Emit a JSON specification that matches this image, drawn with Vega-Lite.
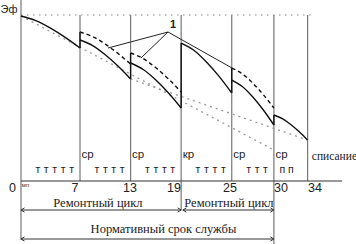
{
  "$schema": "https://vega.github.io/schema/vega-lite/v6.json",
  "width": 356,
  "height": 244,
  "padding": 0,
  "autosize": {"type": "none"},
  "background": "white",
  "config": {"view": {"stroke": null}},
  "encoding": {
    "x": {"field": "t", "type": "quantitative", "scale": {"domain": [-2.49, 39.74], "nice": false, "zero": false}, "axis": null},
    "y": {"field": "e", "type": "quantitative", "scale": {"domain": [-37.95, 109.04], "nice": false, "zero": false}, "axis": null}
  },
  "layer": [
    {
      "data": {"values": [
        {"t": 0, "e": 109.04, "e2": -35.54},
        {"t": 7, "e": 100, "e2": 0},
        {"t": 13, "e": 100, "e2": 0},
        {"t": 19, "e": 100, "e2": -17.47},
        {"t": 25, "e": 100, "e2": 0},
        {"t": 30, "e": 100, "e2": -37.95},
        {"t": 34, "e": 100, "e2": 0}
      ]},
      "mark": {"type": "rule", "color": "#777", "strokeWidth": 1.2},
      "encoding": {"y2": {"field": "e2"}}
    },
    {
      "data": {"values": [
        {"t": 0, "t2": 34.5, "e": 100}
      ]},
      "mark": {"type": "rule", "color": "#888", "strokeWidth": 1.2, "strokeDash": [1.5, 4.5]},
      "encoding": {"x2": {"field": "t2"}}
    },
    {
      "data": {"values": [
        {"t": 0, "t2": 38.1, "e": 0},
        {"t": 0, "t2": 19, "e": -17.47},
        {"t": 19.2, "t2": 30, "e": -17.47},
        {"t": 0, "t2": 30, "e": -34.94}
      ]},
      "mark": {"type": "rule", "color": "#333", "strokeWidth": 1},
      "encoding": {"x2": {"field": "t2"}}
    },
    {
      "data": {"values": [
        {"t": 1}, {"t": 2}, {"t": 3}, {"t": 4}, {"t": 5}, {"t": 6}, {"t": 7}, {"t": 8}, {"t": 9}, {"t": 10},
        {"t": 11}, {"t": 12}, {"t": 13}, {"t": 14}, {"t": 15}, {"t": 16}, {"t": 17}, {"t": 18}, {"t": 19}, {"t": 20},
        {"t": 21}, {"t": 22}, {"t": 23}, {"t": 24}, {"t": 25}, {"t": 26}, {"t": 27}, {"t": 28}, {"t": 29}, {"t": 30},
        {"t": 31}, {"t": 32}, {"t": 33}, {"t": 34}, {"t": 35}, {"t": 36}, {"t": 37}
      ]},
      "mark": {"type": "rule", "color": "#444", "strokeWidth": 1},
      "encoding": {"y": {"datum": 0}, "y2": {"datum": 2.1}}
    },
    {
      "data": {"values": [
        {"id": "L", "t": 0, "e": 99.4},
        {"id": "L", "t": 30, "e": 18.67},
        {"id": "U", "t": 13, "e": 61.45},
        {"id": "U", "t": 34, "e": 24.7}
      ]},
      "mark": {"type": "line", "color": "#999", "strokeWidth": 1.3, "strokeDash": [2, 4]},
      "encoding": {"detail": {"field": "id"}}
    },
    {
      "data": {"values": [
        {"seg": 1, "t": 0, "e": 99.4}, {"seg": 1, "t": 1.75, "e": 96.62}, {"seg": 1, "t": 3.5, "e": 92.11}, {"seg": 1, "t": 5.25, "e": 86.51}, {"seg": 1, "t": 7, "e": 80.12},
        {"seg": 2, "t": 7, "e": 84.94}, {"seg": 2, "t": 8.5, "e": 81.57}, {"seg": 2, "t": 10, "e": 76.02}, {"seg": 2, "t": 11.5, "e": 69.22}, {"seg": 2, "t": 13, "e": 61.45},
        {"seg": 3, "t": 13, "e": 71.08}, {"seg": 3, "t": 14.5, "e": 67.17}, {"seg": 3, "t": 16, "e": 60.84}, {"seg": 3, "t": 17.5, "e": 53.01}, {"seg": 3, "t": 19, "e": 43.98},
        {"seg": 4, "t": 19, "e": 83.13}, {"seg": 4, "t": 20.5, "e": 78.79}, {"seg": 4, "t": 22, "e": 71.69}, {"seg": 4, "t": 23.5, "e": 63.01}, {"seg": 4, "t": 25, "e": 53.01},
        {"seg": 5, "t": 25, "e": 60.84}, {"seg": 5, "t": 26.25, "e": 56.93}, {"seg": 5, "t": 27.5, "e": 50.6}, {"seg": 5, "t": 28.75, "e": 42.77}, {"seg": 5, "t": 30, "e": 33.73},
        {"seg": 6, "t": 30, "e": 39.76}, {"seg": 6, "t": 31, "e": 37.59}, {"seg": 6, "t": 32, "e": 34.04}, {"seg": 6, "t": 33, "e": 29.7}, {"seg": 6, "t": 34, "e": 24.7}
      ]},
      "mark": {"type": "line", "color": "#111", "strokeWidth": 1.4, "interpolate": "monotone"},
      "encoding": {"detail": {"field": "seg"}}
    },
    {
      "data": {"values": [
        {"seg": 2, "t": 7, "e": 89.76}, {"seg": 2, "t": 8.5, "e": 86.99}, {"seg": 2, "t": 10, "e": 82.47}, {"seg": 2, "t": 11.5, "e": 76.87}, {"seg": 2, "t": 13, "e": 70.48},
        {"seg": 3, "t": 13, "e": 77.11}, {"seg": 3, "t": 14.5, "e": 73.73}, {"seg": 3, "t": 16, "e": 68.19}, {"seg": 3, "t": 17.5, "e": 61.45}, {"seg": 3, "t": 19, "e": 53.61},
        {"seg": 5, "t": 25, "e": 68.07}, {"seg": 5, "t": 26.25, "e": 64.58}, {"seg": 5, "t": 27.5, "e": 58.91}, {"seg": 5, "t": 28.75, "e": 51.99}, {"seg": 5, "t": 30, "e": 43.98}
      ]},
      "mark": {"type": "line", "color": "#111", "strokeWidth": 1.4, "strokeDash": [4, 3], "interpolate": "monotone"},
      "encoding": {"detail": {"field": "seg"}}
    },
    {
      "data": {"values": [
        {"t": 7, "e": 80.12, "e2": 89.76},
        {"t": 13, "e": 61.45, "e2": 77.11},
        {"t": 19, "e": 43.98, "e2": 83.13},
        {"t": 25, "e": 53.01, "e2": 68.07},
        {"t": 30, "e": 33.73, "e2": 39.76}
      ]},
      "mark": {"type": "rule", "color": "#111", "strokeWidth": 1.4},
      "encoding": {"y2": {"field": "e2"}}
    },
    {
      "data": {"values": [
        {"id": "a", "o": 1, "t": 17.44, "e": 89.76}, {"id": "a", "o": 2, "t": 10.32, "e": 80.12},
        {"id": "b", "o": 1, "t": 17.44, "e": 89.76}, {"id": "b", "o": 2, "t": 14.23, "e": 74.1},
        {"id": "c", "o": 1, "t": 17.44, "e": 89.76}, {"id": "c", "o": 2, "t": 25.03, "e": 68.07}
      ]},
      "mark": {"type": "line", "color": "#222", "strokeWidth": 1},
      "encoding": {"detail": {"field": "id"}, "order": {"field": "o"}}
    },
    {
      "data": {"values": [
        {"t": 0, "e": -17.47}, {"t": 19.2, "e": -17.47}, {"t": 0, "e": -34.94}
      ]},
      "mark": {"type": "point", "shape": "M0,0L1,-0.6M0,0L1,0.6", "size": 49, "filled": false, "stroke": "#333", "strokeWidth": 1, "opacity": 1}
    },
    {
      "data": {"values": [
        {"t": 19, "e": -17.47}, {"t": 30, "e": -17.47}, {"t": 30, "e": -34.94}
      ]},
      "mark": {"type": "point", "shape": "M0,0L-1,-0.6M0,0L-1,0.6", "size": 49, "filled": false, "stroke": "#333", "strokeWidth": 1, "opacity": 1}
    },
    {
      "data": {"values": [
        {"t": -1.0, "e": -4.2, "s": "0"},
        {"t": 6.41, "e": -4.2, "s": "7"},
        {"t": 12.93, "e": -4.2, "s": "13"},
        {"t": 18.15, "e": -4.2, "s": "19"},
        {"t": 24.79, "e": -4.2, "s": "25"},
        {"t": 30.84, "e": -4.2, "s": "30"},
        {"t": 34.88, "e": -4.2, "s": "34"}
      ]},
      "mark": {"type": "text", "font": "Liberation Sans", "fontSize": 12.5, "fill": "#222", "align": "center", "baseline": "middle"},
      "encoding": {"text": {"field": "s"}}
    },
    {
      "data": {"values": [
        {"t": 7, "e": 15.66, "s": "ср"},
        {"t": 13, "e": 15.66, "s": "ср"},
        {"t": 19, "e": 15.66, "s": "кр"},
        {"t": 25, "e": 15.66, "s": "ср"},
        {"t": 30, "e": 15.66, "s": "ср"}
      ]},
      "mark": {"type": "text", "font": "Liberation Sans", "fontSize": 11.5, "fill": "#222", "align": "left", "baseline": "middle", "dx": 1.5},
      "encoding": {"text": {"field": "s"}}
    },
    {
      "data": {"values": [
        {"t": 2, "e": 6.63, "s": "т"}, {"t": 3, "e": 6.63, "s": "т"}, {"t": 4, "e": 6.63, "s": "т"}, {"t": 5, "e": 6.63, "s": "т"}, {"t": 6, "e": 6.63, "s": "т"},
        {"t": 9, "e": 6.63, "s": "т"}, {"t": 10, "e": 6.63, "s": "т"}, {"t": 11, "e": 6.63, "s": "т"}, {"t": 12, "e": 6.63, "s": "т"},
        {"t": 15, "e": 6.63, "s": "т"}, {"t": 16, "e": 6.63, "s": "т"}, {"t": 17, "e": 6.63, "s": "т"}, {"t": 18, "e": 6.63, "s": "т"},
        {"t": 21, "e": 6.63, "s": "т"}, {"t": 22, "e": 6.63, "s": "т"}, {"t": 23, "e": 6.63, "s": "т"}, {"t": 24, "e": 6.63, "s": "т"},
        {"t": 27, "e": 6.63, "s": "т"}, {"t": 28, "e": 6.63, "s": "т"}, {"t": 29, "e": 6.63, "s": "т"},
        {"t": 31, "e": 6.63, "s": "п"}, {"t": 32, "e": 6.63, "s": "п"}
      ]},
      "mark": {"type": "text", "font": "Liberation Sans", "fontSize": 10.5, "fill": "#222", "align": "center", "baseline": "middle"},
      "encoding": {"text": {"field": "s"}}
    },
    {
      "data": {"values": [
        {"t": 0.1, "e": -2.6, "s": "мп"}
      ]},
      "mark": {"type": "text", "font": "Liberation Sans", "fontSize": 6, "fill": "#333", "align": "left", "baseline": "middle"},
      "encoding": {"text": {"field": "s"}}
    },
    {
      "data": {"values": [
        {"t": -2.43, "e": 103, "s": "Эф"}
      ]},
      "mark": {"type": "text", "font": "Liberation Sans", "fontSize": 11, "fill": "#222", "align": "left", "baseline": "middle"},
      "encoding": {"text": {"field": "s"}}
    },
    {
      "data": {"values": [
        {"t": 18.03, "e": 93.98, "s": "1"}
      ]},
      "mark": {"type": "text", "font": "Liberation Sans", "fontSize": 11, "fontWeight": "bold", "fill": "#222", "align": "center", "baseline": "middle"},
      "encoding": {"text": {"field": "s"}}
    },
    {
      "data": {"values": [
        {"t": 34.5, "e": 14.76, "s": "списание"}
      ]},
      "mark": {"type": "text", "font": "Liberation Serif", "fontSize": 11.5, "fill": "#222", "align": "left", "baseline": "middle"},
      "encoding": {"text": {"field": "s"}}
    },
    {
      "data": {"values": [
        {"t": 9.13, "e": -12.95, "s": "Ремонтный цикл"},
        {"t": 24.67, "e": -12.95, "s": "Ремонтный цикл"},
        {"t": 16.9, "e": -28.9, "s": "Нормативный срок службы"}
      ]},
      "mark": {"type": "text", "font": "Liberation Serif", "fontSize": 12.5, "fill": "#222", "align": "center", "baseline": "middle"},
      "encoding": {"text": {"field": "s"}}
    }
  ]
}
